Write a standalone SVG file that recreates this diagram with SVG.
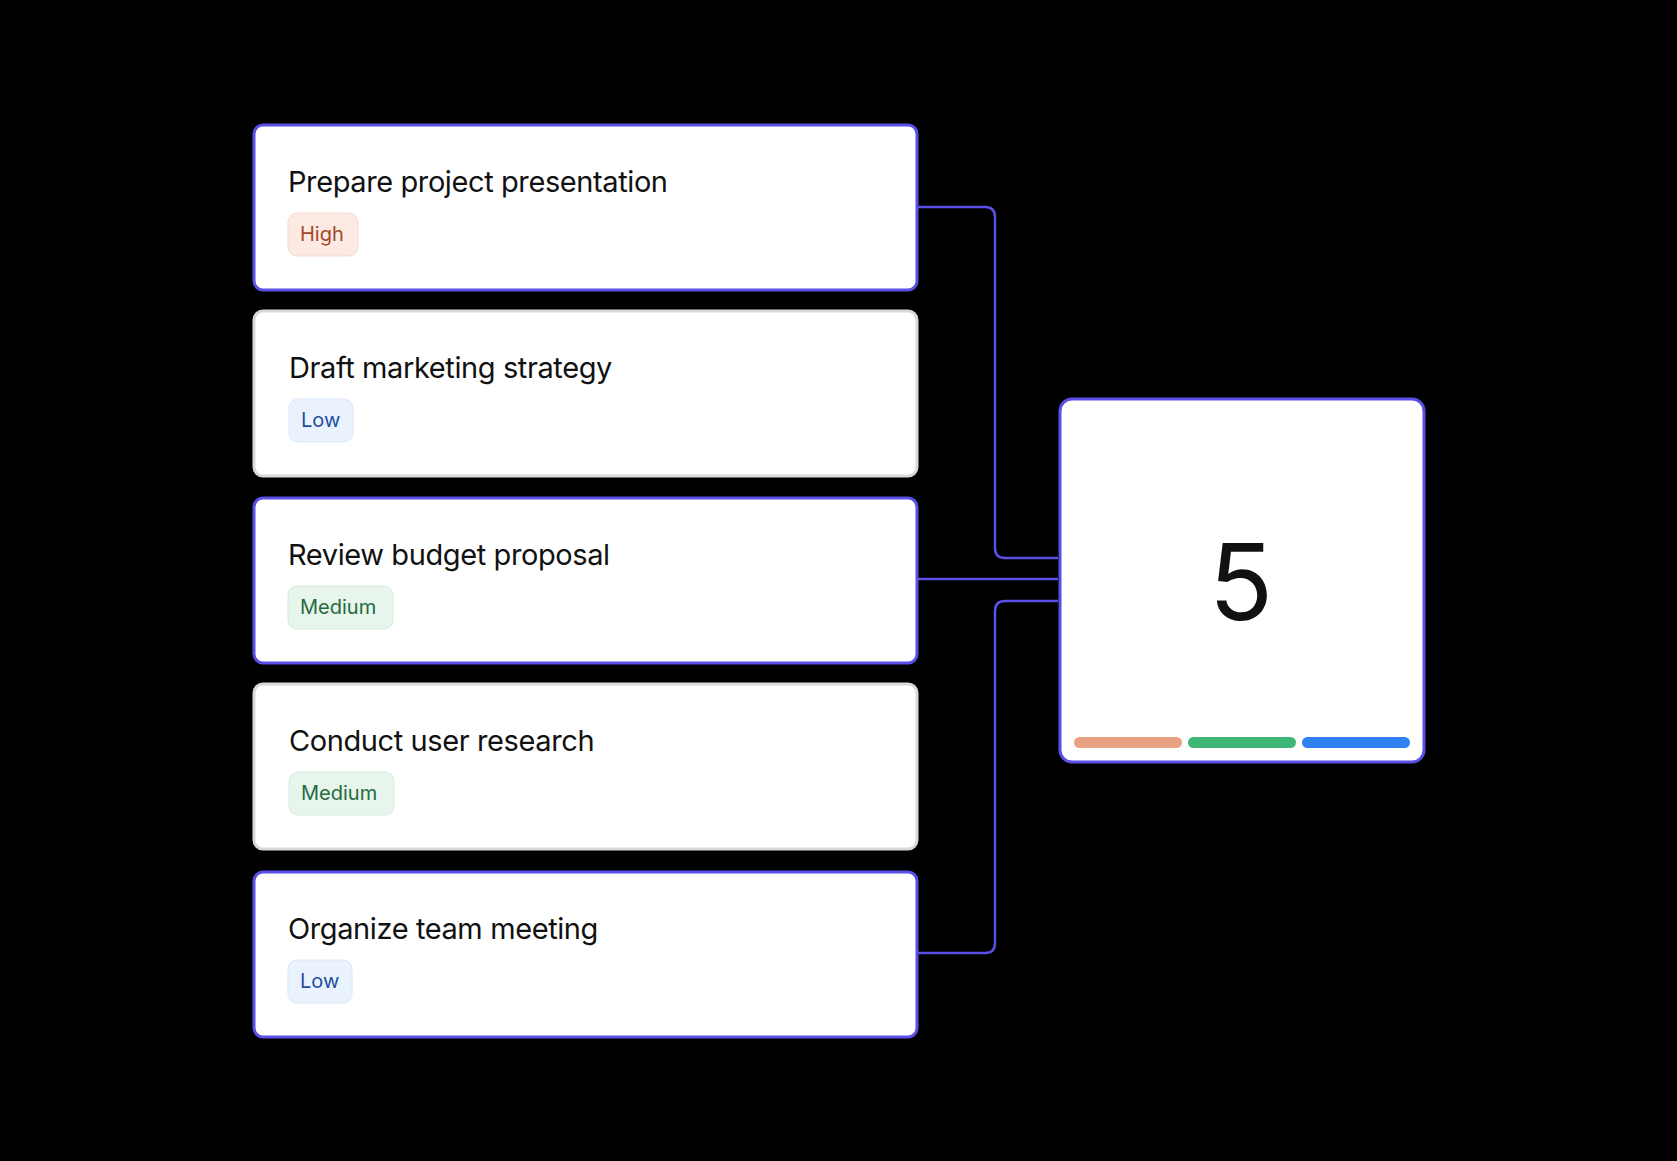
<svg xmlns="http://www.w3.org/2000/svg" width="1677" height="1161" viewBox="0 0 1677 1161">
<style>
.card{fill:#fff;stroke-width:3}
.act{stroke:#5a4fe6}
.idle{stroke:#d9d9d9}
.t{font-family:Inter,"Liberation Sans",sans-serif;font-size:29px;fill:#111;letter-spacing:-0.4px}
.b{font-family:Inter,"Liberation Sans",sans-serif;font-size:20px}
.hi{fill:#fbe9e2;stroke:#f6dcd1}.hit{fill:#a24a2b}
.lo{fill:#eaf2fd;stroke:#dbe7f8}.lot{fill:#1e4e9e}
.me{fill:#e7f5ec;stroke:#d5ecdd}.met{fill:#256b40}
.c{fill:none;stroke:#5a4fe6;stroke-width:2.5}
</style>
<rect width="1677" height="1161" fill="#000"/>
<g id="connectors">
<path class="c" d="M917 207 H985 Q995 207 995 217 V548 Q995 558 1005 558 H1058"/>
<path class="c" d="M917 579 H1058"/>
<path class="c" d="M917 953 H985 Q995 953 995 943 V611 Q995 601 1005 601 H1058"/>
</g>
<g id="card1"><rect class="card act" x="254" y="125" width="663" height="165" rx="9"/><text class="t" x="288" y="192">Prepare project presentation</text><rect class="hi" x="288" y="213" width="70" height="43" rx="9"/><text class="b hit" x="300" y="241">High</text></g>
<g id="card2"><rect class="card idle" x="254" y="311" width="663" height="165" rx="9"/><text class="t" x="289" y="378">Draft marketing strategy</text><rect class="lo" x="289" y="399" width="64" height="43" rx="9"/><text class="b lot" x="301" y="427">Low</text></g>
<g id="card3"><rect class="card act" x="254" y="498" width="663" height="165" rx="9"/><text class="t" x="288" y="565">Review budget proposal</text><rect class="me" x="288" y="586" width="105" height="43" rx="9"/><text class="b met" x="300" y="614">Medium</text></g>
<g id="card4"><rect class="card idle" x="254" y="684" width="663" height="165" rx="9"/><text class="t" x="289" y="751">Conduct user research</text><rect class="me" x="289" y="772" width="105" height="43" rx="9"/><text class="b met" x="301" y="800">Medium</text></g>
<g id="card5"><rect class="card act" x="254" y="872" width="663" height="165" rx="9"/><text class="t" x="288" y="939">Organize team meeting</text><rect class="lo" x="288" y="960" width="64" height="43" rx="9"/><text class="b lot" x="300" y="988">Low</text></g>
<g id="total"><rect class="card act" x="1060" y="399" width="364" height="363" rx="12"/>
<text x="1241" y="620" text-anchor="middle" font-family="Inter,'Liberation Sans',sans-serif" font-size="106" fill="#111">5</text>
<rect x="1074" y="737" width="108" height="11" rx="5.5" fill="#e8a282"/>
<rect x="1188" y="737" width="108" height="11" rx="5.5" fill="#3db676"/>
<rect x="1302" y="737" width="108" height="11" rx="5.5" fill="#2f80f0"/>
</g>
</svg>
